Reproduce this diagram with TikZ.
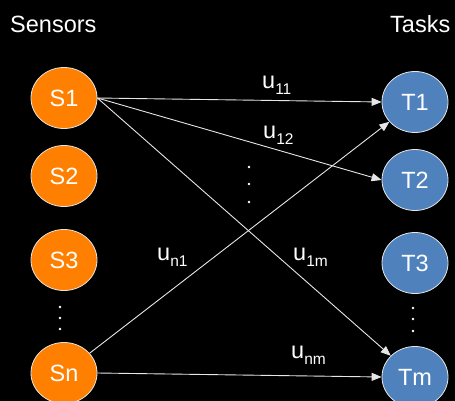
\documentclass[tikz,border=0pt]{standalone}
\usepackage{fontspec}
\setmainfont{Liberation Sans}
\usetikzlibrary{shapes.geometric,arrows.meta}
\definecolor{sensorfill}{HTML}{FF8000}
\definecolor{taskfill}{HTML}{4F81BD}
\definecolor{linkgray}{HTML}{E6E6E6}
% utility label: letter with a lowered, smaller index
\newcommand{\ulabel}[1]{u\raisebox{-6pt}{\fontsize{15.5}{16}\selectfont #1}}
\begin{document}
\begin{tikzpicture}[x=1pt,y=-1pt,
  agent/.style={ellipse, draw=linkgray, line width=0.8pt,
    minimum width=66pt, minimum height=61pt, inner sep=0pt,
    text=white, font=\fontsize{23.5}{27}\selectfont},
  sensor/.style={agent, fill=sensorfill},
  task/.style={agent, fill=taskfill},
  link/.style={draw=linkgray, line width=0.9pt,
    -{Triangle[length=10pt,width=8pt]}},
  caption/.style={anchor=base west, inner sep=0pt, text=white,
    font=\fontsize{23.5}{27}\selectfont},
  dotmark/.style={fill=white}]

% canvas
\fill[black] (0,0) rectangle (455,401);
\useasboundingbox (0,0) rectangle (455,401);

% column headings
\node[caption] (hs) at (10,33) {Sensors};
\node[caption] (ht) at (390,33) {Tasks};

% sensors
\node[sensor] (S1) at (64,98)  {S1};
\node[sensor] (S2) at (64,176) {S2};
\node[sensor] (S3) at (64,260) {S3};
\node[sensor] (Sn) at (64,373) {Sn};

% tasks
\node[task] (T1) at (415,102) {T1};
\node[task] (T2) at (415,180) {T2};
\node[task] (T3) at (415,263) {T3};
\node[task] (Tm) at (415,377) {Tm};

% ellipsis dots
\foreach \y in {307,318,329} \fill[dotmark] (60,\y) circle (1.4pt);
\foreach \y in {308,319,331} \fill[dotmark] (413,\y) circle (1.4pt);
\foreach \y in {167,184,202} \fill[dotmark] (249,\y) circle (1.4pt);

% assignments
\draw[link] (S1.east) -- (T1.west);
\draw[link] (S1.east) -- (T2.west);
\draw[link] (S1.east) -- (Tm);
\draw[link] (Sn) -- (T1);
\draw[link] (Sn.east) -- (Tm.west);

% utilities
\node[caption] (u11) at (262,89)  {\ulabel{11}};
\node[caption] (u12) at (263,139) {\ulabel{12}};
\node[caption] (un1) at (157,260) {\ulabel{n1}};
\node[caption] (u1m) at (293,260) {\ulabel{1m}};
\node[caption] (unm) at (291,358) {\ulabel{nm}};
\end{tikzpicture}
\end{document}
